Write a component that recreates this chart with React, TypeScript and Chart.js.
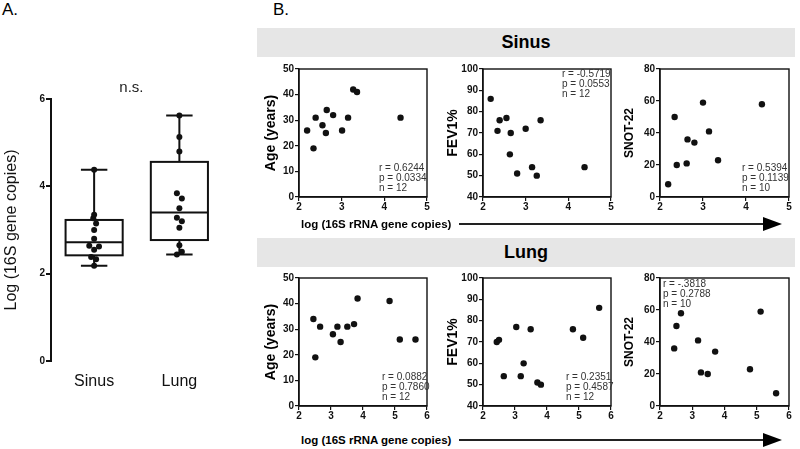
import React, { useEffect, useRef } from "react";
import { Chart, registerables } from "chart.js";
Chart.register(...registerables);

const FONT = "'Liberation Sans', Arial, Helvetica, sans-serif";
const INK = "#111";

// ---------- Panel A: box plot data ----------
const groups = ["Sinus", "Lung"];
const sinusLog = [2.18, 2.33, 2.38, 2.55, 2.62, 2.64, 2.8, 3.0, 3.15, 3.27, 3.35, 4.38];
const lungLog = [2.44, 2.5, 2.65, 3.05, 3.2, 3.28, 3.5, 3.72, 3.84, 4.8, 5.13, 5.62];
const sinusJitter = [0, 0.023, -0.035, 0, 0.057, -0.057, 0, 0, 0.023, -0.01, 0, 0];
const lungJitter = [-0.029, 0.029, 0, 0, 0.029, -0.029, 0, 0.029, -0.029, 0, 0, 0];
const boxMin = [2.18, 2.44];
const boxQ1 = [2.42, 2.77];
const boxMedian = [2.72, 3.4];
const boxQ3 = [3.23, 4.56];
const boxMax = [4.38, 5.62];
const boxYTicks = [0, 2, 4, 6];
const boxYTitle = "Log (16S gene copies)";
const sigLabel = "n.s.";

// ---------- Panel B: scatter data ----------
const sinusAgeX = [2.19, 2.34, 2.39, 2.55, 2.63, 2.65, 2.8, 3.01, 3.15, 3.27, 3.36, 4.38];
const sinusAgeY = [26, 19, 31, 28, 25, 34, 32, 26, 31, 42, 41, 31];
const sinusFevX = [2.18, 2.34, 2.39, 2.55, 2.63, 2.65, 2.8, 3.0, 3.15, 3.26, 3.35, 4.38];
const sinusFevY = [86, 71, 76, 77, 60, 70, 51, 72, 54, 50, 76, 54];
const sinusSnotX = [2.19, 2.34, 2.39, 2.62, 2.64, 2.8, 3.0, 3.14, 3.35, 4.37];
const sinusSnotY = [8, 50, 20, 21, 36, 34, 59, 41, 23, 58];

const lungAgeX = [2.45, 2.51, 2.66, 3.06, 3.2, 3.3, 3.51, 3.72, 3.83, 4.83, 5.15, 5.64];
const lungAgeY = [34, 19, 31, 28, 31, 25, 31, 32, 42, 41, 26, 26];
const lungFevX = [2.43, 2.5, 2.65, 3.04, 3.18, 3.27, 3.49, 3.7, 3.81, 4.81, 5.13, 5.63];
const lungFevY = [70, 71, 54, 77, 54, 60, 76, 51, 50, 76, 72, 86];
const lungSnotX = [2.44, 2.51, 2.65, 3.18, 3.27, 3.48, 3.71, 4.79, 5.12, 5.6];
const lungSnotY = [36, 50, 58, 41, 21, 20, 34, 23, 59, 8];

const sinusAgeStats = ["r = 0.6244", "p = 0.0334", "n = 12"];
const sinusFevStats = ["r = -0.5719", "p = 0.0553", "n = 12"];
const sinusSnotStats = ["r = 0.5394", "p = 0.1139", "n = 10"];
const lungAgeStats = ["r = 0.0882", "p = 0.7860", "n = 12"];
const lungFevStats = ["r = 0.2351", "p = 0.4587", "n = 12"];
const lungSnotStats = ["r = -.3818", "p = 0.2788", "n = 10"];

const sinusXTicks = [2, 3, 4, 5];
const lungXTicks = [2, 3, 4, 5, 6];
const ageTicks = [0, 10, 20, 30, 40, 50];
const fevTicks = [40, 50, 60, 70, 80, 90, 100];
const snotTicks = [0, 20, 40, 60, 80];

const rowTitles = ["Sinus", "Lung"];
const xAxisLabel = "log (16S rRNA gene copies)";

// ---------- Panel A component ----------
function BoxPanel() {
  const ref = useRef<HTMLCanvasElement>(null);
  const W = 226, H = 320;
  useEffect(() => {
    const boxPlugin = {
      id: "boxes",
      beforeDatasetsDraw(chart: any) {
        const { ctx } = chart;
        const xs = chart.scales.x, ys = chart.scales.y;
        ctx.save();
        ctx.strokeStyle = INK;
        ctx.lineWidth = 2;
        groups.forEach((_, i) => {
          const cx = xs.getPixelForValue(i + 1);
          const hw = xs.getPixelForValue(i + 1 + 0.335) - cx;
          const cw = xs.getPixelForValue(i + 1 + 0.155) - cx;
          const yMin = ys.getPixelForValue(boxMin[i]);
          const yQ1 = ys.getPixelForValue(boxQ1[i]);
          const yMed = ys.getPixelForValue(boxMedian[i]);
          const yQ3 = ys.getPixelForValue(boxQ3[i]);
          const yMax = ys.getPixelForValue(boxMax[i]);
          ctx.strokeRect(cx - hw, yQ3, hw * 2, yQ1 - yQ3);
          ctx.beginPath();
          ctx.moveTo(cx - hw, yMed); ctx.lineTo(cx + hw, yMed);
          ctx.moveTo(cx, yQ3); ctx.lineTo(cx, yMax);
          ctx.moveTo(cx, yQ1); ctx.lineTo(cx, yMin);
          ctx.moveTo(cx - cw, yMax); ctx.lineTo(cx + cw, yMax);
          ctx.moveTo(cx - cw, yMin); ctx.lineTo(cx + cw, yMin);
          ctx.stroke();
        });
        ctx.restore();
      },
      afterDraw(chart: any) {
        const { ctx } = chart;
        const xs = chart.scales.x, ys = chart.scales.y;
        ctx.save();
        ctx.font = `15px ${FONT}`;
        ctx.fillStyle = "#222";
        ctx.textAlign = "center";
        ctx.textBaseline = "middle";
        ctx.fillText(sigLabel, xs.getPixelForValue(1.437), ys.getPixelForValue(boxYTicks[boxYTicks.length - 1]) - 11);
        ctx.restore();
      },
    };
    const pts = (vals: number[], jit: number[], gi: number) =>
      vals.map((v, i) => ({ x: gi + 1 + jit[i], y: v }));
    const chart = new Chart(ref.current as HTMLCanvasElement, {
      type: "scatter",
      data: {
        datasets: [
          { data: pts(sinusLog, sinusJitter, 0), backgroundColor: INK, borderWidth: 0, pointRadius: 3, clip: false } as any,
          { data: pts(lungLog, lungJitter, 1), backgroundColor: INK, borderWidth: 0, pointRadius: 3, clip: false } as any,
        ],
      },
      options: {
        animation: false,
        responsive: false,
        maintainAspectRatio: false,
        events: [],
        layout: { padding: { left: 0, top: 19, right: 0, bottom: 0 } },
        plugins: { legend: { display: false }, tooltip: { enabled: false } },
        scales: {
          x: {
            type: "linear",
            min: 0.494,
            max: 2.5,
            afterFit: (s: any) => { s.height = 39; },
            afterBuildTicks: (s: any) => { s.ticks = groups.map((_, i) => ({ value: i + 1 })); },
            ticks: {
              callback: (_v: any, idx: number) => groups[idx],
              font: { family: FONT, size: 16 },
              color: INK,
              padding: 11,
              maxRotation: 0,
            },
            grid: { display: false, drawTicks: false },
            border: { display: false },
          },
          y: {
            type: "linear",
            min: boxYTicks[0],
            max: boxYTicks[boxYTicks.length - 1],
            afterFit: (s: any) => { s.width = 51; },
            afterBuildTicks: (s: any) => { s.ticks = boxYTicks.map((v) => ({ value: v })); },
            ticks: { font: { family: FONT, size: 10, weight: "bold" }, color: INK, padding: 1 },
            grid: { drawOnChartArea: false, drawTicks: true, tickLength: 5, color: INK, lineWidth: 2 },
            border: { display: true, color: INK, width: 2 },
            title: {
              display: true,
              text: boxYTitle,
              font: { family: FONT, size: 16 },
              color: INK,
              padding: { top: 1.5, bottom: 0 },
            },
          },
        },
      } as any,
      plugins: [boxPlugin],
    });
    return () => chart.destroy();
  }, []);
  return (
    <canvas ref={ref} width={W} height={H}
      style={{ position: "absolute", left: 0, top: 80, width: W, height: H }} />
  );
}

// ---------- Scatter panel component ----------
type PanelProps = {
  plot: [number, number, number, number];
  xs: number[];
  ys: number[];
  xTicks: number[];
  yTicks: number[];
  yTitle: string;
  titleSize: number;
  titleCenter: number;
  stats: string[];
  corner: "br" | "tr" | "tl";
  dx: number;
  dy: number;
};

function ScatterPanel(p: PanelProps) {
  const ref = useRef<HTMLCanvasElement>(null);
  const L = 50, T = 8, R = 8, B = 20;
  const [pl, pt, pr, pb] = p.plot;
  const w = pr - pl + L + R, h = pb - pt + T + B;
  const left = pl - L, top = pt - T;
  useEffect(() => {
    const lh = p.titleSize * 1.2;
    const framePlugin = {
      id: "frameStats",
      afterDraw(chart: any) {
        const { ctx, chartArea: a } = chart;
        ctx.save();
        ctx.strokeStyle = INK;
        ctx.lineWidth = 1.4;
        ctx.strokeRect(a.left, a.top, a.right - a.left, a.bottom - a.top);
        ctx.font = `10px ${FONT}`;
        ctx.fillStyle = "#333";
        ctx.textAlign = "left";
        ctx.textBaseline = "middle";
        const x0 = p.corner === "tl" ? a.left + p.dx : a.right - p.dx;
        const y0 = p.corner === "br" ? a.bottom - p.dy : a.top + p.dy;
        p.stats.forEach((s, i) => ctx.fillText(s, x0, y0 + i * 10.3));
        ctx.restore();
      },
    };
    const chart = new Chart(ref.current as HTMLCanvasElement, {
      type: "scatter",
      data: {
        datasets: [
          {
            data: p.xs.map((x, i) => ({ x, y: p.ys[i] })),
            backgroundColor: INK,
            borderWidth: 0,
            pointRadius: 3.2,
            clip: false,
          } as any,
        ],
      },
      options: {
        animation: false,
        responsive: false,
        maintainAspectRatio: false,
        events: [],
        layout: { padding: { left: 0, top: T, right: R, bottom: 0 } },
        plugins: { legend: { display: false }, tooltip: { enabled: false } },
        scales: {
          x: {
            type: "linear",
            min: p.xTicks[0],
            max: p.xTicks[p.xTicks.length - 1],
            afterFit: (s: any) => { s.height = B; },
            afterBuildTicks: (s: any) => { s.ticks = p.xTicks.map((v) => ({ value: v })); },
            ticks: { font: { family: FONT, size: 10, weight: "bold" }, color: INK, padding: 0, maxRotation: 0 },
            grid: { drawOnChartArea: false, drawTicks: true, tickLength: 4, color: INK, lineWidth: 1.2 },
            border: { display: true, color: INK, width: 1.4 },
          },
          y: {
            type: "linear",
            min: p.yTicks[0],
            max: p.yTicks[p.yTicks.length - 1],
            afterFit: (s: any) => { s.width = L; },
            afterBuildTicks: (s: any) => { s.ticks = p.yTicks.map((v) => ({ value: v })); },
            ticks: { font: { family: FONT, size: 10, weight: "bold" }, color: INK, padding: 1 },
            grid: { drawOnChartArea: false, drawTicks: true, tickLength: 4, color: INK, lineWidth: 1.2 },
            border: { display: true, color: INK, width: 1.4 },
            title: {
              display: true,
              text: p.yTitle,
              font: { family: FONT, size: p.titleSize, weight: "bold" },
              color: "#000",
              padding: { top: p.titleCenter - left - lh / 2, bottom: 0 },
            },
          },
        },
      } as any,
      plugins: [framePlugin],
    });
    return () => chart.destroy();
  }, []);
  return (
    <canvas ref={ref} width={w} height={h}
      style={{ position: "absolute", left, top, width: w, height: h }} />
  );
}

// ---------- Layout ----------
const cols: [number, number][] = [[299, 427], [483, 611], [660, 789]];
const rows: [number, number][] = [[69, 197], [278, 406]];

const panels: PanelProps[] = [
  { plot: [cols[0][0], rows[0][0], cols[0][1], rows[0][1]], xs: sinusAgeX, ys: sinusAgeY, xTicks: sinusXTicks, yTicks: ageTicks, yTitle: "Age (years)", titleSize: 14, titleCenter: 271, stats: sinusAgeStats, corner: "br", dx: 48, dy: 29 },
  { plot: [cols[1][0], rows[0][0], cols[1][1], rows[0][1]], xs: sinusFevX, ys: sinusFevY, xTicks: sinusXTicks, yTicks: fevTicks, yTitle: "FEV1%", titleSize: 14, titleCenter: 453, stats: sinusFevStats, corner: "tr", dx: 49, dy: 5 },
  { plot: [cols[2][0], rows[0][0], cols[2][1], rows[0][1]], xs: sinusSnotX, ys: sinusSnotY, xTicks: sinusXTicks, yTicks: snotTicks, yTitle: "SNOT-22", titleSize: 12, titleCenter: 630, stats: sinusSnotStats, corner: "br", dx: 47, dy: 29 },
  { plot: [cols[0][0], rows[1][0], cols[0][1], rows[1][1]], xs: lungAgeX, ys: lungAgeY, xTicks: lungXTicks, yTicks: ageTicks, yTitle: "Age (years)", titleSize: 14, titleCenter: 271, stats: lungAgeStats, corner: "br", dx: 45, dy: 29 },
  { plot: [cols[1][0], rows[1][0], cols[1][1], rows[1][1]], xs: lungFevX, ys: lungFevY, xTicks: lungXTicks, yTicks: fevTicks, yTitle: "FEV1%", titleSize: 14, titleCenter: 453, stats: lungFevStats, corner: "br", dx: 45, dy: 29 },
  { plot: [cols[2][0], rows[1][0], cols[2][1], rows[1][1]], xs: lungSnotX, ys: lungSnotY, xTicks: lungXTicks, yTicks: snotTicks, yTitle: "SNOT-22", titleSize: 12, titleCenter: 630, stats: lungSnotStats, corner: "tl", dx: 3, dy: 6 },
];

function HeaderBar({ text, top }: { text: string; top: number }) {
  return (
    <div style={{
      position: "absolute", left: 257, top, width: 538, height: 29,
      background: "#e6e6e6", textAlign: "center", lineHeight: "29px",
      fontWeight: "bold", fontSize: 18, color: "#000",
    }}>{text}</div>
  );
}

function AxisArrow({ y }: { y: number }) {
  return (
    <>
      <div style={{
        position: "absolute", left: 301, top: y - 8, height: 16, lineHeight: "16px",
        fontWeight: "bold", fontSize: 11.5, color: "#000", whiteSpace: "nowrap",
      }}>{xAxisLabel}</div>
      <div style={{ position: "absolute", left: 459, top: y - 0.75, width: 306, height: 1.5, background: "#222" }} />
      <div style={{
        position: "absolute", left: 763, top: y - 7, width: 0, height: 0,
        borderTop: "7px solid transparent", borderBottom: "7px solid transparent",
        borderLeft: "19px solid #000",
      }} />
    </>
  );
}

export default function App() {
  return (
    <div style={{
      position: "absolute", left: 0, top: 0, width: 800, height: 449,
      background: "#fff", overflow: "hidden", fontFamily: FONT,
    }}>
      <div style={{ position: "absolute", left: 2, top: 1, fontSize: 17, lineHeight: "17px", color: "#000" }}>A.</div>
      <div style={{ position: "absolute", left: 273, top: 1, fontSize: 17, lineHeight: "17px", color: "#000" }}>B.</div>
      <BoxPanel />
      <HeaderBar text={rowTitles[0]} top={28} />
      <HeaderBar text={rowTitles[1]} top={238} />
      {panels.map((p, i) => <ScatterPanel key={i} {...p} />)}
      <AxisArrow y={224} />
      <AxisArrow y={440} />
    </div>
  );
}
